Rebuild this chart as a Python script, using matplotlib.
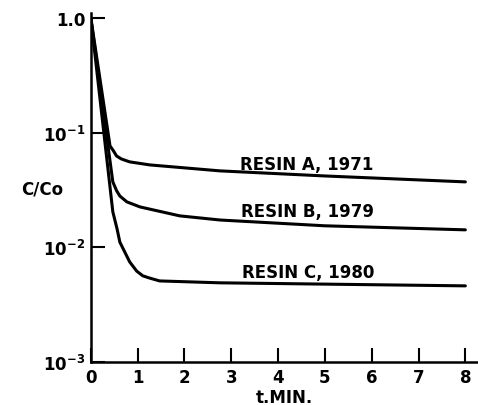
import numpy as np
from matplotlib import pyplot as plt

# Data (t in min, C/Co)
t_a = [0.0, 0.41, 0.48, 0.55, 0.65, 0.83, 1.26, 2.76, 5.0, 8.0]
c_a = [1.0, 0.0766, 0.0697, 0.0626, 0.059, 0.0556, 0.0523, 0.0464, 0.0419, 0.0372]

t_b = [0.0, 0.47, 0.55, 0.62, 0.77, 1.05, 1.9, 2.76, 5.0, 8.0]
c_b = [1.0, 0.0372, 0.0312, 0.028, 0.0249, 0.0225, 0.0188, 0.0173, 0.0154, 0.0142]

t_c = [0.0, 0.47, 0.56, 0.62, 0.83, 0.98, 1.11, 1.25, 1.47, 2.76, 8.0]
c_c = [1.0, 0.0204, 0.0145, 0.0111, 0.00746, 0.0062, 0.00564, 0.0054, 0.00509, 0.0049, 0.00461]

labels = ['RESIN A, 1971', 'RESIN B, 1979', 'RESIN C, 1980']
label_pos = [(3.18, 0.0533), (3.2, 0.0208), (3.22, 0.0061)]

x_ticks = [0, 1, 2, 3, 4, 5, 6, 7, 8]
y_ticks = [1.0, 1e-1, 1e-2, 1e-3]
y_tick_labels = ['1.0', r'10$^{-1}$', r'10$^{-2}$', r'10$^{-3}$']

# Plot config
plt.rcParams['font.family'] = 'DejaVu Sans'
plt.rcParams['font.weight'] = 'bold'
plt.rcParams['mathtext.default'] = 'bf'
text_size = 12
line_w = 2.2

fig = plt.figure(figsize=(4.78, 4.06), dpi=100)
ax = fig.add_axes([0.190, 0.106, 0.808, 0.8595])

for t, c in [(t_a, c_a), (t_b, c_b), (t_c, c_c)]:
    ax.plot(t, c, color='black', lw=line_w, solid_capstyle='round', solid_joinstyle='round')

for lab, (x, y) in zip(labels, label_pos):
    ax.text(x, y, lab, fontsize=text_size, fontweight='bold', va='center', ha='left')

ax.set_yscale('log')
ax.set_xlim(0, 8.25)
ax.set_ylim(1e-3, 1.105)

ax.spines['top'].set_visible(False)
ax.spines['right'].set_visible(False)
ax.spines['left'].set_linewidth(1.8)
ax.spines['bottom'].set_linewidth(1.8)

ax.set_xticks(x_ticks)
ax.set_xticklabels([str(v) for v in x_ticks])
ax.set_yticks(y_ticks)
ax.set_yticklabels(y_tick_labels)
ax.minorticks_off()
ax.tick_params(direction='in', length=10, width=1.5, labelsize=text_size, pad=4)

ax.set_xlabel('t.MIN.', fontsize=text_size, fontweight='bold', labelpad=2)
ax.set_ylabel('C/Co', fontsize=text_size, fontweight='bold', rotation=0, va='center', ha='center')
ax.yaxis.set_label_coords(-0.127, 0.496)

fig.savefig('out.png', dpi=100)
